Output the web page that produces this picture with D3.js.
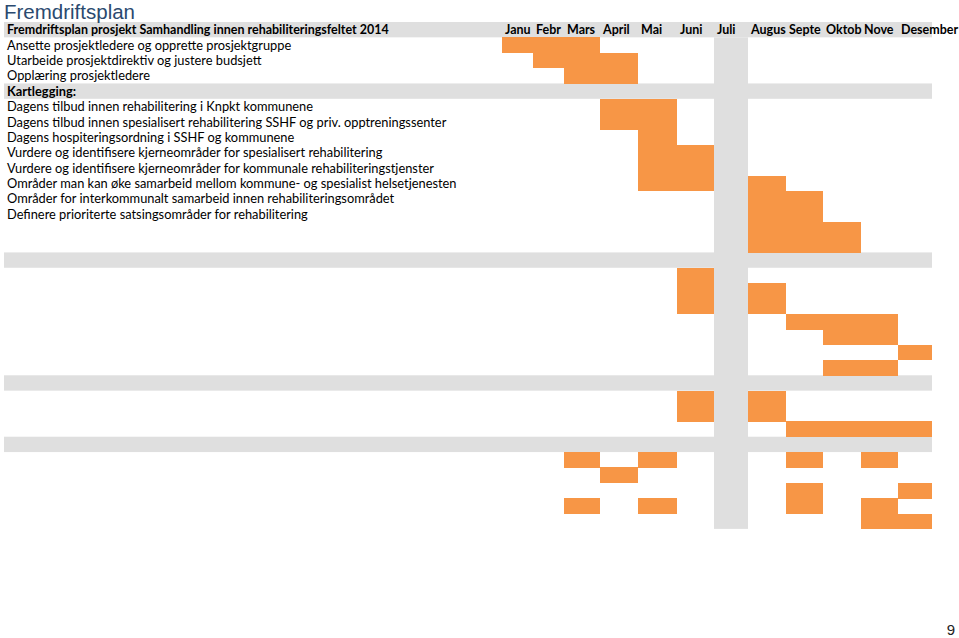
<!DOCTYPE html>
<html>
<head>
<meta charset="utf-8">
<script src="https://cdn.jsdelivr.net/npm/d3@7/dist/d3.min.js"></script>
<style>
  html, body { margin: 0; padding: 0; background: #fff; }
  svg { display: block; }
</style>
</head>
<body>
<svg id="chart" width="959" height="638"></svg>
<script>
// ---------------- DATA ----------------
const title = "Fremdriftsplan";
const headerLabel = "Fremdriftsplan prosjekt Samhandling innen rehabiliteringsfeltet 2014";
const months = ["Januar", "Februar", "Mars", "April", "Mai", "Juni", "Juli",
                "August", "September", "Oktober", "November", "Desember"];
// task labels, by row (row 0 = header)
const taskLabels = [
  { row: 1,  text: "Ansette prosjektledere og opprette prosjektgruppe", bold: false },
  { row: 2,  text: "Utarbeide prosjektdirektiv og justere budsjett", bold: false },
  { row: 3,  text: "Opplæring prosjektledere", bold: false },
  { row: 4,  text: "Kartlegging:", bold: true },
  { row: 5,  text: "Dagens tilbud innen rehabilitering i Knpkt kommunene", bold: false },
  { row: 6,  text: "Dagens tilbud innen spesialisert rehabilitering SSHF og priv. opptreningssenter", bold: false },
  { row: 7,  text: "Dagens hospiteringsordning i SSHF og kommunene", bold: false },
  { row: 8,  text: "Vurdere og identifisere kjerneområder for spesialisert rehabilitering", bold: false },
  { row: 9,  text: "Vurdere og identifisere kjerneområder for kommunale rehabiliteringstjenster", bold: false },
  { row: 10, text: "Områder man kan øke samarbeid mellom kommune- og spesialist helsetjenesten", bold: false },
  { row: 11, text: "Områder for interkommunalt samarbeid innen rehabiliteringsområdet", bold: false },
  { row: 12, text: "Definere prioriterte satsingsområder for rehabilitering", bold: false }
];
// gray section rows
const sectionRows = [0, 4, 15, 23, 27];
// highlighted month column (Juli = 6)
const highlightMonth = 6;
const totalRows = 33;
// bars: [row, firstMonth, lastMonth]  (month index 0 = Januar)
const bars = [
  [1, 0, 2], [2, 1, 3], [3, 2, 3],
  [5, 3, 4], [6, 3, 4], [7, 4, 4], [8, 4, 5], [9, 4, 5], [10, 4, 5],
  [10, 7, 7], [11, 7, 8], [12, 7, 8], [13, 7, 9], [14, 7, 9],
  [16, 5, 5], [17, 5, 5], [17, 7, 7], [18, 5, 5], [18, 7, 7],
  [19, 8, 10], [20, 9, 10], [21, 11, 11], [22, 9, 10],
  [24, 5, 5], [24, 7, 7], [25, 5, 5], [25, 7, 7], [26, 8, 11],
  [28, 2, 2], [28, 4, 4], [28, 8, 8], [28, 10, 10],
  [29, 3, 3],
  [30, 8, 8], [30, 11, 11],
  [31, 2, 2], [31, 4, 4], [31, 8, 8], [31, 10, 10],
  [32, 10, 10], [32, 11, 11]
];
const pageNumber = "9";

// ---------------- LAYOUT ----------------
const svg = d3.select("#chart");
const ORANGE = "#f79646", GRAY = "#dfdfdf";
const FONT = "Lato, 'Open Sans', sans-serif";

const colEdges = [502, 533, 564, 600, 638, 677, 714, 748, 786, 823, 861, 898, 932];
const x = d3.scaleLinear().domain(d3.range(13)).range(colEdges);
const y = d3.scaleLinear().domain([0, totalRows]).range([22, 22 + totalRows * 15.36]);
const bandLeft = 4, bandRight = x(12);

// gray section bands
svg.append("g").selectAll("rect").data(sectionRows).join("rect")
  .attr("x", bandLeft).attr("width", bandRight - bandLeft)
  .attr("y", d => y(d)).attr("height", d => y(d + 1) - y(d))
  .attr("fill", GRAY);

// highlighted month column
svg.append("rect")
  .attr("x", x(highlightMonth)).attr("width", x(highlightMonth + 1) - x(highlightMonth))
  .attr("y", y(1)).attr("height", y(totalRows) - y(1))
  .attr("fill", GRAY);

// bars
svg.append("g").selectAll("rect").data(bars).join("rect")
  .attr("x", d => x(d[1]))
  .attr("width", d => x(d[2] + 1) - x(d[1]))
  .attr("y", d => y(d[0]))
  .attr("height", d => y(d[0] + 1) - y(d[0]) + 0.4)
  .attr("fill", ORANGE)
  .attr("shape-rendering", "crispEdges");

// helper: horizontally compress a text (anchored at x0) to a target width
function squeeze(sel, x0, target) {
  const w = sel.node().getComputedTextLength();
  const s = Math.min(1, target / w);
  sel.attr("transform", `translate(${x0},0) scale(${s},1) translate(${-x0},0)`);
  return s;
}

// title
const t = svg.append("text").attr("x", 4).attr("y", 18.5)
  .attr("font-family", "'Liberation Sans', Arial, sans-serif").attr("font-size", 20.5)
  .attr("fill", "#2b4a6f").text(title);
squeeze(t, 4, 139);

// header label (bold)
const hl = svg.append("text").attr("x", 7).attr("y", y(0.5)).attr("dy", "0.35em")
  .attr("font-family", FONT).attr("font-weight", "bold").attr("font-size", 13.5)
  .attr("fill", "#000").text(headerLabel);
const sHead = squeeze(hl, 7, 382);

// task labels
const labelG = svg.append("g");
const labels = labelG.selectAll("text").data(taskLabels).join("text")
  .attr("x", 7).attr("y", d => y(d.row + 0.5)).attr("dy", "0.35em")
  .attr("font-family", FONT).attr("font-size", 13.5)
  .attr("font-weight", d => d.bold ? "bold" : "normal")
  .attr("fill", "#000").text(d => d.text);
// scale all labels so the longest matches the reference width
const lw = labels.filter(d => d.row === 6).node().getComputedTextLength();
const sLab = 440 / lw;
labelG.attr("transform", `translate(7,0) scale(${sLab},1) translate(-7,0)`);

// month labels, truncated to fit their column
svg.append("g").selectAll("text").data(months).join("text")
  .attr("x", (d, i) => x(i) + 3)
  .attr("y", y(0.5)).attr("dy", "0.35em")
  .attr("font-family", FONT).attr("font-weight", "bold")
  .attr("font-size", 13.5)
  .attr("fill", "#000")
  .each(function (d, i) {
    const el = d3.select(this);
    const x0 = x(i) + 3;
    el.attr("transform", `translate(${x0},0) scale(${sHead},1) translate(${-x0},0)`);
    if (i === months.length - 1) { el.text(d); return; }
    const avail = (x(i + 1) - x0 + 1.5) / sHead;
    let s = d;
    el.text(s);
    while (s.length > 1 && this.getComputedTextLength() > avail) {
      s = s.slice(0, -1);
      el.text(s);
    }
  });

// page number
svg.append("text").attr("x", 955).attr("y", 635).attr("text-anchor", "end")
  .attr("font-family", "'Liberation Sans', Arial, sans-serif").attr("font-size", 15)
  .attr("fill", "#222").text(pageNumber);
</script>
</body>
</html>
